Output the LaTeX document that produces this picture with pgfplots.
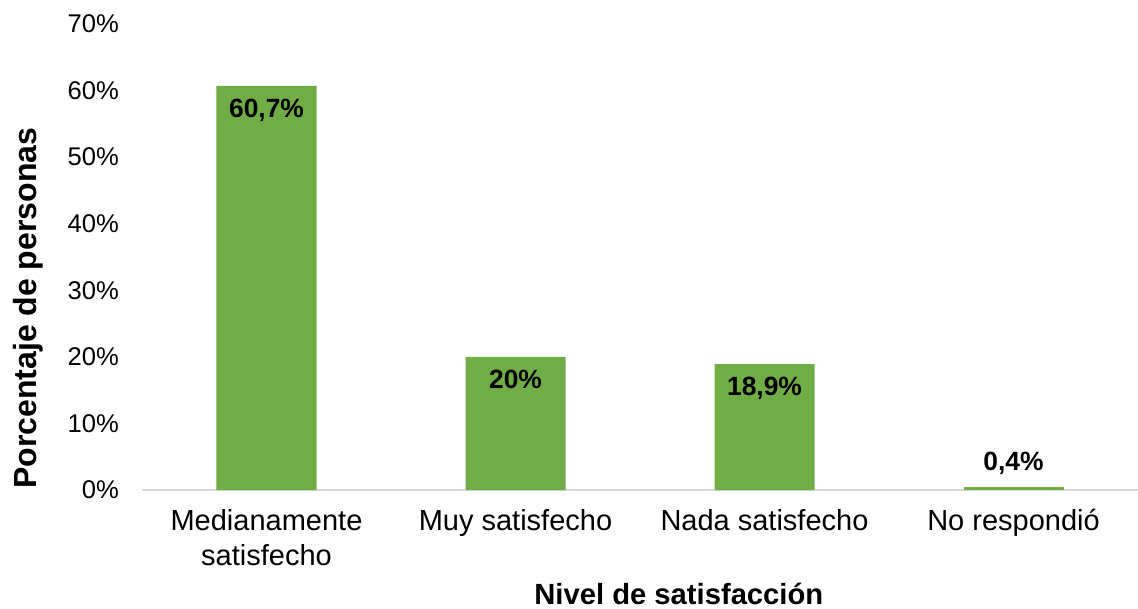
\documentclass[border=0pt]{standalone}
\usepackage{pgfplots}
\pgfplotsset{compat=1.18}
\usetikzlibrary{calc}
\usepackage{fontspec}
\setmainfont{Liberation Sans}
\definecolor{bargreen}{HTML}{70AD47}
\definecolor{axisgray}{HTML}{D9D9D9}
\newcommand\tl{\fontsize{14.5}{17.5}\selectfont}
\begin{document}
\begin{tikzpicture}
\begin{axis}[
  name=ax,
  scale only axis, width=498pt, height=233pt,
  ymin=0, ymax=70, xmin=-0.5, xmax=3.5,
  ytick={0,10,...,70},
  /pgf/number format/assume math mode=true,
  yticklabel={\pgfmathprintnumber{\tick}\%},
  yticklabel style={font=\fontsize{12.8}{15}\selectfont, xshift=-8pt},
  xtick={0,1,2,3},
  xticklabels={{\tl Medianamente\\\tl satisfecho},{\tl Muy satisfecho},{\tl Nada satisfecho},{\tl No respondió}},
  xticklabel style={align=center, font=\tl, yshift=-6pt},
  axis x line*=bottom, axis y line*=left,
  y axis line style={draw=none},
  x axis line style={draw=axisgray, line width=1pt},
  major tick length=0pt,
  ybar, bar width=50pt, bar shift=0pt,
  every axis x label/.style={at={(axis description cs:0.539,0)}, anchor=center, yshift=-52pt, font=\bfseries\fontsize{14.6}{17}\selectfont},
  every axis y label/.style={at={(axis description cs:0,0.39)}, xshift=-57pt, anchor=center, rotate=90, font=\bfseries\fontsize{16}{18}\selectfont},
  xlabel={Nivel de satisfacción},
  ylabel={Porcentaje de personas},
  point meta=explicit symbolic,
  nodes near coords,
  every node near coord/.append style={font=\bfseries\fontsize{13.2}{15}\selectfont, text=black},
]
\addplot[fill=bargreen, draw=none, every node near coord/.append style={anchor=north, yshift=-3pt}]
  table[meta=lab] {
x y lab
0 60.7 {60,7\%}
1 20.0 {20\%}
2 18.9 {18,9\%}
};
\addplot[fill=bargreen, draw=none, every node near coord/.append style={anchor=south, yshift=3pt}]
  table[meta=lab] {
x y lab
3 0.4 {0,4\%}
};
\end{axis}
\pgfresetboundingbox
\path ($(ax.south west)+(-71pt,-59.5pt)$) rectangle ($(ax.north east)+(0,12pt)$);
\end{tikzpicture}
\end{document}
